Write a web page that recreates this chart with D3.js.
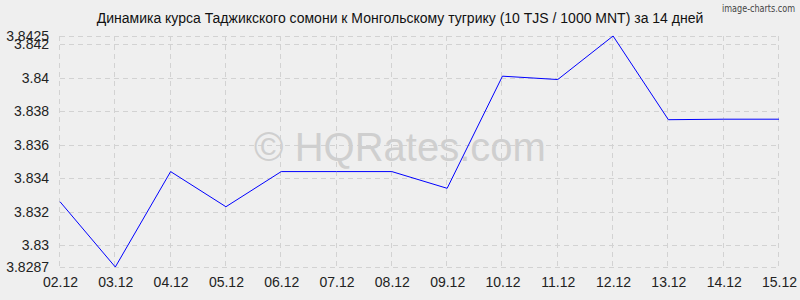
<!DOCTYPE html>
<html>
<head>
<meta charset="utf-8">
<script src="https://cdn.jsdelivr.net/npm/d3@7"></script>
<style>
  body { margin: 0; background: #efefef; }
  svg { display: block; font-family: "Liberation Sans", Arial, sans-serif; }
</style>
</head>
<body>
<svg width="800" height="300"></svg>
<script>
// Chart data
var dates = ["02.12", "03.12", "04.12", "05.12", "06.12", "07.12", "08.12",
             "09.12", "10.12", "11.12", "12.12", "13.12", "14.12", "15.12"];
var rates = [3.8326, 3.8287, 3.8344, 3.8323, 3.8344, 3.8344, 3.8344,
             3.8334, 3.8401, 3.8399, 3.8425, 3.8375, 3.83753, 3.83753];
var yTicks = [3.8287, 3.83, 3.832, 3.834, 3.836, 3.838, 3.84, 3.842, 3.8425];
var title = "Динамика курса Таджикского сомони к Монгольскому тугрику (10 TJS / 1000 MNT) за 14 дней";

var svg = d3.select("svg");
var width = +svg.attr("width");
var height = +svg.attr("height");

svg.append("rect").attr("width", width).attr("height", height).attr("fill", "#efefef");

// Scales
var x = d3.scalePoint().domain(dates).range([60, 779]);
var y = d3.scaleLinear().domain([3.8287, 3.8425]).range([267, 36]);

// Grid
var grid = svg.append("g").attr("stroke", "#d2d2d2").attr("stroke-dasharray", "5,4").attr("stroke-width", 1);
grid.selectAll("line.h")
    .data(yTicks)
    .enter().append("line")
    .attr("x1", 60).attr("x2", 779)
    .attr("y1", function(d) { return Math.round(y(d)) + 0.5; })
    .attr("y2", function(d) { return Math.round(y(d)) + 0.5; });
grid.selectAll("line.v")
    .data(dates)
    .enter().append("line")
    .attr("y1", 36).attr("y2", 267)
    .attr("x1", function(d) { return Math.round(x(d)) - 0.5; })
    .attr("x2", function(d) { return Math.round(x(d)) - 0.5; });

// Watermark
svg.append("text")
    .attr("x", 400).attr("y", 161)
    .attr("text-anchor", "middle")
    .attr("font-size", 40)
    .attr("fill", "#cfcfcf")
    .text("© HQRates.com");

// Axes (labels only)
var yAxis = svg.append("g")
    .attr("transform", "translate(49,0)")
    .call(d3.axisLeft(y).tickValues(yTicks).tickSize(0).tickPadding(0).tickFormat(function(d) { return String(d); }));
yAxis.select(".domain").remove();
yAxis.selectAll("text").attr("font-size", 14).attr("fill", "#222").attr("font-family", "Liberation Sans, Arial, sans-serif");

var xAxis = svg.append("g")
    .attr("transform", "translate(0,277)")
    .call(d3.axisBottom(x).tickSize(0).tickPadding(0));
xAxis.select(".domain").remove();
xAxis.selectAll("text").attr("font-size", 14).attr("fill", "#222").attr("font-family", "Liberation Sans, Arial, sans-serif");

// Line
var line = d3.line()
    .x(function(d, i) { return x(dates[i]); })
    .y(function(d) { return y(d); });
svg.append("path")
    .datum(rates)
    .attr("fill", "none")
    .attr("stroke", "#0000ff")
    .attr("stroke-width", 1)
    .attr("d", line);

// Title
svg.append("text")
    .attr("x", 400).attr("y", 23)
    .attr("text-anchor", "middle")
    .attr("font-size", 14)
    .attr("fill", "#111")
    .text(title);

svg.append("text")
    .attr("x", 722).attr("y", 12)
    .attr("font-size", 10)
    .attr("textLength", 73)
    .attr("lengthAdjust", "spacingAndGlyphs")
    .attr("font-family", "DejaVu Sans Condensed, Liberation Sans Narrow, sans-serif")
    .attr("fill", "#444")
    .text("image-charts.com");
</script>
</body>
</html>
